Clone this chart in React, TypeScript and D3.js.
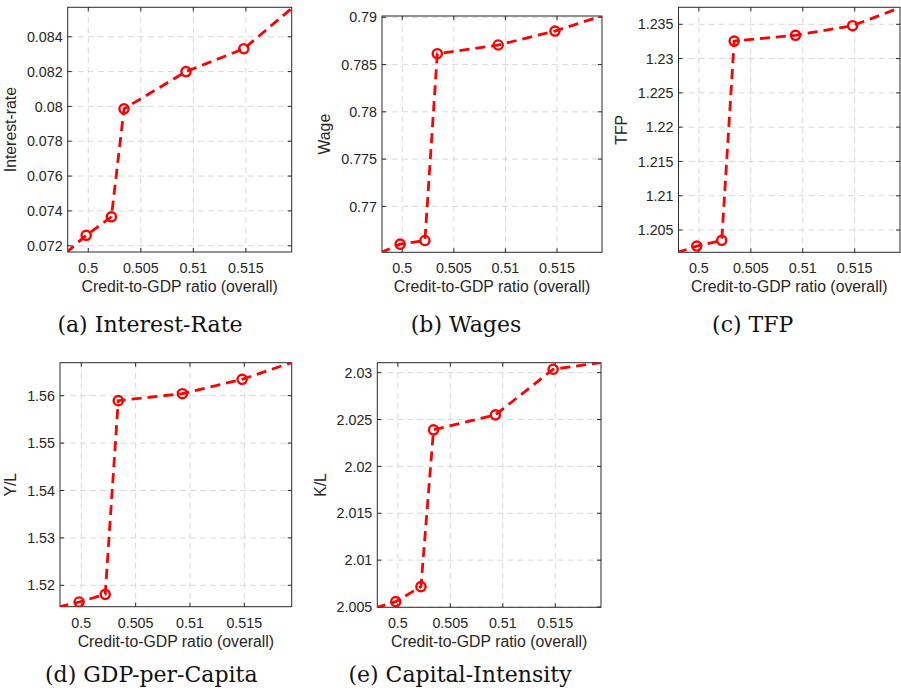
import React from 'react';
import * as d3 from 'd3';

// ---- data ----
const creditRatio = [0.4998, 0.5022, 0.5034, 0.5093, 0.5148];
const creditEdges = [0.4979, 0.5195];
const xTicks = [0.5, 0.505, 0.51, 0.515];

const interestRate = [0.0726, 0.07366, 0.07986, 0.082, 0.08331];
const interestEdges = [0.0716, 0.0857];
const interestTicks = [0.072, 0.074, 0.076, 0.078, 0.08, 0.082, 0.084];

const wage = [0.766, 0.76639, 0.78615, 0.78707, 0.78855];
const wageEdges = [0.7651, 0.7902];
const wageTicks = [0.77, 0.775, 0.78, 0.785, 0.79];

const tfp = [1.20266, 1.2035, 1.23256, 1.2334, 1.2348];
const tfpEdges = [1.2017, 1.2375];
const tfpTicks = [1.205, 1.21, 1.215, 1.22, 1.225, 1.23, 1.235];

const gdpPerCapita = [1.51648, 1.5181, 1.55895, 1.56042, 1.56346];
const gdpEdges = [1.5154, 1.5671];
const gdpTicks = [1.52, 1.53, 1.54, 1.55, 1.56];

const capitalIntensity = [2.00557, 2.00717, 2.0239, 2.0255, 2.03036];
const capitalEdges = [2.0049, 2.0311];
const capitalTicks = [2.005, 2.01, 2.015, 2.02, 2.025, 2.03];

const xLabel = 'Credit-to-GDP ratio (overall)';

const fmt = (v: number) => String(+v.toFixed(6));

type PanelProps = {
  id: string;
  left: number; right: number; top: number; bottom: number;
  yDomain: [number, number];
  values: number[];
  edges: number[];
  yTicks: number[];
  yLabel: string;
  caption: string;
  captionX: number;
  captionY: number;
};

const AXIS = '#2b2b2b';
const TICK_FS = 14.3;
const LABEL_FS = 15.8;
const SANS = "'Liberation Sans', Arial, Helvetica, sans-serif";

function Panel(p: PanelProps) {
  const x = d3.scaleLinear().domain([0.49804, 0.51936]).range([p.left, p.right]);
  const y = d3.scaleLinear().domain(p.yDomain).range([p.bottom, p.top]);
  const pts: [number, number][] = [
    [creditEdges[0], p.edges[0]],
    ...creditRatio.map((c, i) => [c, p.values[i]] as [number, number]),
    [creditEdges[1], p.edges[1]],
  ];
  const line = d3.line<[number, number]>().x(d => x(d[0])).y(d => y(d[1]));
  const maxChars = d3.max(p.yTicks.map(t => fmt(t).length)) as number;
  const tickW = TICK_FS * (0.556 * (maxChars - 1) + 0.278);
  const yLabelX = p.left - 5 - tickW - 11;
  const cx = (p.left + p.right) / 2;
  const cy = (p.top + p.bottom) / 2;
  const tl = 4;
  return (
    <g>
      <defs>
        <clipPath id={`clip-${p.id}`}>
          <rect x={p.left} y={p.top} width={p.right - p.left} height={p.bottom - p.top} />
        </clipPath>
      </defs>
      {/* grid */}
      {xTicks.map(t => (
        <line key={'gx' + t} x1={x(t)} x2={x(t)} y1={p.top} y2={p.bottom}
          stroke="#d9d9d9" strokeWidth={1} strokeDasharray="6,4" />
      ))}
      {p.yTicks.map(t => (
        <line key={'gy' + t} x1={p.left} x2={p.right} y1={y(t)} y2={y(t)}
          stroke="#d9d9d9" strokeWidth={1} strokeDasharray="6,4" />
      ))}
      {/* ticks (inward, all sides) */}
      {xTicks.map(t => (
        <g key={'tx' + t}>
          <line x1={x(t)} x2={x(t)} y1={p.bottom} y2={p.bottom - tl} stroke={AXIS} />
          <line x1={x(t)} x2={x(t)} y1={p.top} y2={p.top + tl} stroke={AXIS} />
          <text x={x(t)} y={p.bottom + 21} textAnchor="middle" fontSize={TICK_FS}
            fontFamily={SANS} fill="#262626">{fmt(t)}</text>
        </g>
      ))}
      {p.yTicks.map(t => (
        <g key={'ty' + t}>
          <line x1={p.left} x2={p.left + tl} y1={y(t)} y2={y(t)} stroke={AXIS} />
          <line x1={p.right} x2={p.right - tl} y1={y(t)} y2={y(t)} stroke={AXIS} />
          <text x={p.left - 5} y={y(t)} dy="0.36em" textAnchor="end" fontSize={TICK_FS}
            fontFamily={SANS} fill="#262626">{fmt(t)}</text>
        </g>
      ))}
      {/* box */}
      <rect x={p.left} y={p.top} width={p.right - p.left} height={p.bottom - p.top}
        fill="none" stroke={AXIS} strokeWidth={1} />
      {/* series */}
      <g clipPath={`url(#clip-${p.id})`}>
        <path d={line(pts) as string} fill="none" stroke="#ff0000" strokeWidth={2.8}
          strokeDasharray="10,6" />
        {creditRatio.map((c, i) => (
          <circle key={'m' + i} cx={x(c)} cy={y(p.values[i])} r={4.6}
            fill="none" stroke="#ff0000" strokeWidth={2.4} />
        ))}
      </g>
      {/* labels */}
      <text x={cx} y={p.bottom + 40} textAnchor="middle" fontSize={LABEL_FS}
        fontFamily={SANS} fill="#262626">{xLabel}</text>
      <text transform={`translate(${yLabelX},${cy}) rotate(-90)`} textAnchor="middle"
        dy="0" fontSize={LABEL_FS} fontFamily={SANS} fill="#262626">{p.yLabel}</text>
      <text x={p.captionX} y={p.captionY} textAnchor="middle" fontSize={22}
        fontFamily="'DejaVu Serif', serif" fill="#111">{p.caption}</text>
    </g>
  );
}

export default function App() {
  return (
    <svg width={901} height={698} style={{ position: 'absolute', left: 0, top: 0, background: '#fff' }}>
      <rect x={0} y={0} width={901} height={698} fill="#fff" />
      <Panel id="a" left={67.7} right={291.7} top={7.3} bottom={252}
        yDomain={[0.07164, 0.08569]} values={interestRate} edges={interestEdges}
        yTicks={interestTicks} yLabel="Interest-rate" caption="(a) Interest-Rate"
        captionX={150} captionY={332} />
      <Panel id="b" left={382} right={602} top={16} bottom={252.3}
        yDomain={[0.76514, 0.79014]} values={wage} edges={wageEdges}
        yTicks={wageTicks} yLabel="Wage" caption="(b) Wages"
        captionX={466} captionY={332} />
      <Panel id="c" left={678.5} right={900} top={7.3} bottom={252.3}
        yDomain={[1.20175, 1.23748]} values={tfp} edges={tfpEdges}
        yTicks={tfpTicks} yLabel="TFP" caption="(c) TFP"
        captionX={752.7} captionY={332} />
      <Panel id="d" left={60} right={291.7} top={362.7} bottom={606.7}
        yDomain={[1.51549, 1.56696]} values={gdpPerCapita} edges={gdpEdges}
        yTicks={gdpTicks} yLabel="Y/L" caption="(d) GDP-per-Capita"
        captionX={151.3} captionY={682} />
      <Panel id="e" left={377.3} right={601} top={362.7} bottom={607.3}
        yDomain={[2.00497, 2.03106]} values={capitalIntensity} edges={capitalEdges}
        yTicks={capitalTicks} yLabel="K/L" caption="(e) Capital-Intensity"
        captionX={460} captionY={682} />
    </svg>
  );
}
